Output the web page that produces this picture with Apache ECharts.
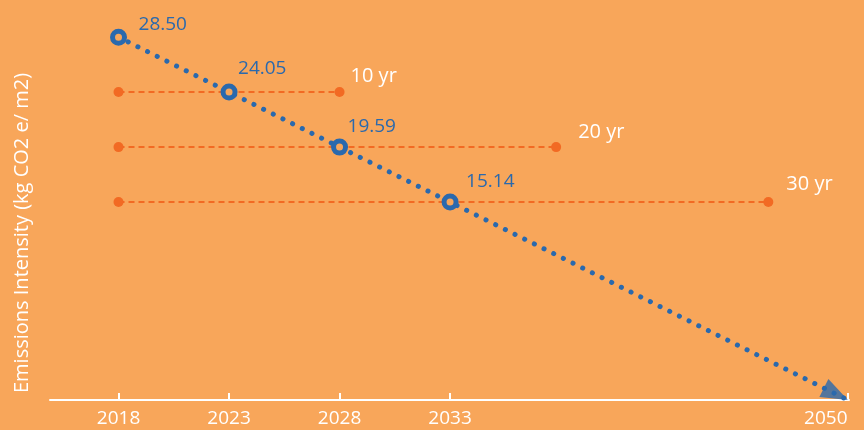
<!DOCTYPE html>
<html>
<head>
<meta charset="utf-8">
<script src="https://cdn.jsdelivr.net/npm/echarts@6/dist/echarts.min.js"></script>
<style>
html,body{margin:0;padding:0;background:#F8A65A;}
#chart{width:864px;height:430px;}
</style>
</head>
<body>
<div id="chart"></div>
<script>
// ---- data ----
var trendYears = [2018, 2023, 2028, 2033];
var trendValues = [28.50, 24.05, 19.59, 15.14];
var arrowTip = [2051, -0.9];
var horizonNames = ['10 yr', '20 yr', '30 yr'];
var horizonValues = [24.05, 19.59, 15.14];
var horizonStart = 2018;
var horizonEnds = [2028, 2037.8, 2047.4];
var tickYears = [2018, 2023, 2028, 2033, 2051];
var labelYears = [2018, 2023, 2028, 2033, 2050];
var yTitle = 'Emissions Intensity (kg CO2 e/ m2)';

// ---- style ----
var BG = '#F8A65A', BLUE = '#2A69AD', ORANGE = '#F26A23', WHITE = '#FFFFFF';
var FONT = '"Open Sans", sans-serif';
var valueLabelOffsets = [[20, -13], [9, -23], [8, -21], [16, -20]];
var horizonLabelOffsets = [[11, -16], [22, -15], [18, -18]];
// arrow head pre-oriented along the trend direction; tip at bottom-right corner of its box
var ARROW_PATH = 'path://M28.5,20.9L9,0L0,17.8Z';

var series = [];
horizonNames.forEach(function (name, i) {
  series.push({
    type: 'line',
    name: name,
    z: 2,
    data: [
      { value: [horizonStart, horizonValues[i]] },
      { value: [horizonEnds[i], horizonValues[i]],
        label: { show: true, formatter: name, position: 'inside', align: 'left', verticalAlign: 'middle',
                 offset: horizonLabelOffsets[i], color: WHITE, fontSize: 20, fontFamily: FONT } }
    ],
    symbol: 'circle',
    symbolSize: 10,
    showAllSymbol: true,
    itemStyle: { color: ORANGE },
    lineStyle: { color: ORANGE, width: 2, type: [6, 4] },
    label: { show: false },
    animation: false
  });
});

var trendData = trendYears.map(function (y, i) {
  return {
    value: [y, trendValues[i]],
    label: { show: true, formatter: trendValues[i].toFixed(2), position: 'inside', align: 'left', verticalAlign: 'middle',
             offset: valueLabelOffsets[i], color: BLUE, fontSize: 19, fontFamily: FONT }
  };
});
trendData.push({ value: arrowTip, symbol: 'none', label: { show: false } });

series.push({
  type: 'line',
  z: 5,
  clip: false,
  data: trendData,
  symbol: 'circle',
  symbolSize: 12,
  showAllSymbol: true,
  itemStyle: { color: BG, borderColor: BLUE, borderWidth: 5 },
  lineStyle: { color: BLUE, width: 5, type: [0.1, 10.7], cap: 'round' },
  animation: false
});

series.push({
  type: 'scatter',
  z: 6,
  clip: false,
  data: [arrowTip],
  symbol: ARROW_PATH,
  symbolSize: [28.5, 20.9],
  symbolOffset: [-14.25, -10.45],
  itemStyle: { color: BLUE },
  silent: true,
  animation: false
});

var chart = echarts.init(document.getElementById('chart'), null, { renderer: 'canvas' });
chart.setOption({
  backgroundColor: BG,
  animation: false,
  grid: { left: 50, top: 10, width: 799, height: 390, outerBoundsMode: 'none' },
  xAxis: {
    type: 'value', min: 2014.9, max: 2051.05,
    axisLine: { show: true, onZero: false, lineStyle: { color: WHITE, width: 2 } },
    axisTick: { show: true, inside: true, length: 7, customValues: tickYears, lineStyle: { color: WHITE, width: 2 } },
    axisLabel: { show: true, customValues: labelYears, color: WHITE, fontSize: 19, fontFamily: FONT, margin: 9,
                 formatter: function (v) { return String(v); } },
    splitLine: { show: false }
  },
  yAxis: {
    type: 'value', min: -0.9, max: 30.7,
    axisLine: { show: false }, axisTick: { show: false }, axisLabel: { show: false }, splitLine: { show: false }
  },
  graphic: [{
    type: 'text',
    x: 22, y: 233,
    rotation: Math.PI / 2,
    style: { text: yTitle, fill: WHITE, fontSize: 20, fontFamily: FONT, align: 'center', verticalAlign: 'middle' }
  }],
  series: series
});
</script>
</body>
</html>
